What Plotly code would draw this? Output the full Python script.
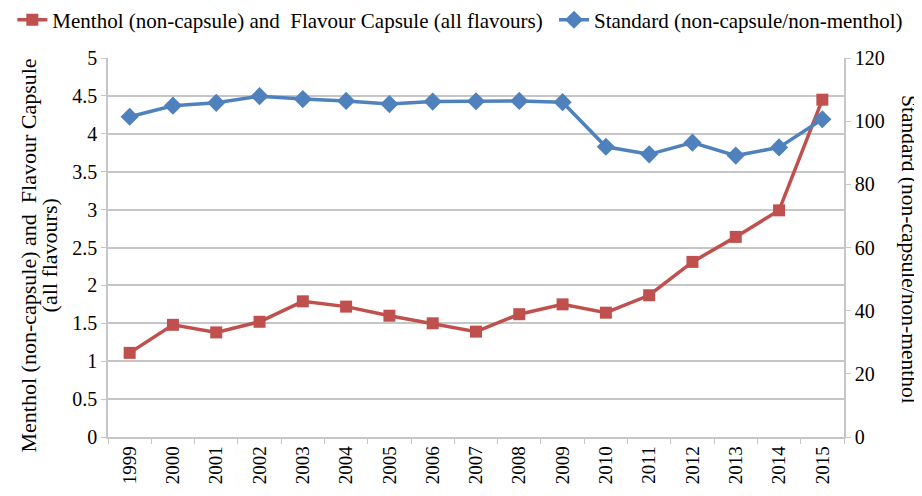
import plotly.graph_objects as go

years = [str(y) for y in range(1999, 2016)]
menthol = [1.11, 1.48, 1.38, 1.52, 1.79, 1.72, 1.60, 1.50, 1.39,
           1.62, 1.75, 1.64, 1.87, 2.31, 2.64, 2.99, 4.45]
standard = [101.4, 104.9, 105.8, 107.9, 107.0, 106.4, 105.4, 106.2, 106.3,
            106.4, 106.0, 91.9, 89.5, 93.2, 89.1, 91.7, 100.6]

red = '#C0504D'
blue = '#4F81BD'
grid = '#C6C6C6'
font_family = '"Times New Roman", "Liberation Serif", "DejaVu Serif", serif'

fig = go.Figure()
fig.add_trace(go.Scatter(x=years, y=menthol, mode='lines+markers',
                         name='Menthol (non-capsule) and  Flavour Capsule (all flavours)',
                         line=dict(color=red, width=3.5),
                         marker=dict(symbol='square', size=12, color=red),
                         legend='legend'))
fig.add_trace(go.Scatter(x=years, y=standard, mode='lines+markers', yaxis='y2',
                         name='Standard (non-capsule/non-menthol)',
                         line=dict(color=blue, width=3.5),
                         marker=dict(symbol='diamond', size=14, color=blue),
                         legend='legend2'))

legend_style = dict(orientation='h', yanchor='middle', y=1.1, xanchor='left',
                    font=dict(size=21, family=font_family), itemwidth=30,
                    bgcolor='rgba(0,0,0,0)')

# the page adds an 8px body margin, so the figure is 8px smaller than the window
fig.update_layout(
    width=914, height=488,
    margin=dict(l=100, r=78, t=50, b=59, autoexpand=False),
    plot_bgcolor='white', paper_bgcolor='white',
    font=dict(family=font_family, size=20, color='black'),
    showlegend=True,
    legend=dict(legend_style, x=-0.130),
    legend2=dict(legend_style, x=0.606),
    xaxis=dict(type='category', range=[-0.5, 16.5], tickangle=-90,
               tickson='boundaries', ticks='outside', ticklen=5, tickcolor=grid,
               showline=True, linecolor=grid, linewidth=1.5, showgrid=False,
               tickfont=dict(size=19), automargin=False),
    yaxis=dict(range=[0, 5], dtick=0.5, showgrid=True, gridcolor=grid, gridwidth=1.5,
               showline=True, linecolor=grid, linewidth=1.5, ticks='outside',
               ticklen=5, tickcolor=grid, zeroline=False, tickfont=dict(size=20),
               automargin=False),
    yaxis2=dict(range=[0, 120], dtick=20, overlaying='y', side='right', showgrid=False,
                showline=True, linecolor=grid, linewidth=1.5, ticks='outside',
                ticklen=5, tickcolor=grid, zeroline=False, tickfont=dict(size=20),
                automargin=False),
    annotations=[
        # left title, two lines set close together as in the reference
        dict(text='Menthol (non-capsule) and  Flavour Capsule',
             xref='paper', yref='paper', x=-0.1087, y=0.479, textangle=-90,
             xanchor='center', yanchor='middle', showarrow=False,
             font=dict(size=22)),
        dict(text='(all flavours)',
             xref='paper', yref='paper', x=-0.0802, y=0.479, textangle=-90,
             xanchor='center', yanchor='middle', showarrow=False,
             font=dict(size=22)),
        dict(text='Standard (non-capsule/non-menthol',
             xref='paper', yref='paper', x=1.088, y=0.494, textangle=90,
             xanchor='center', yanchor='middle', showarrow=False,
             font=dict(size=21.5)),
    ],
)

fig.write_html("out.html")
